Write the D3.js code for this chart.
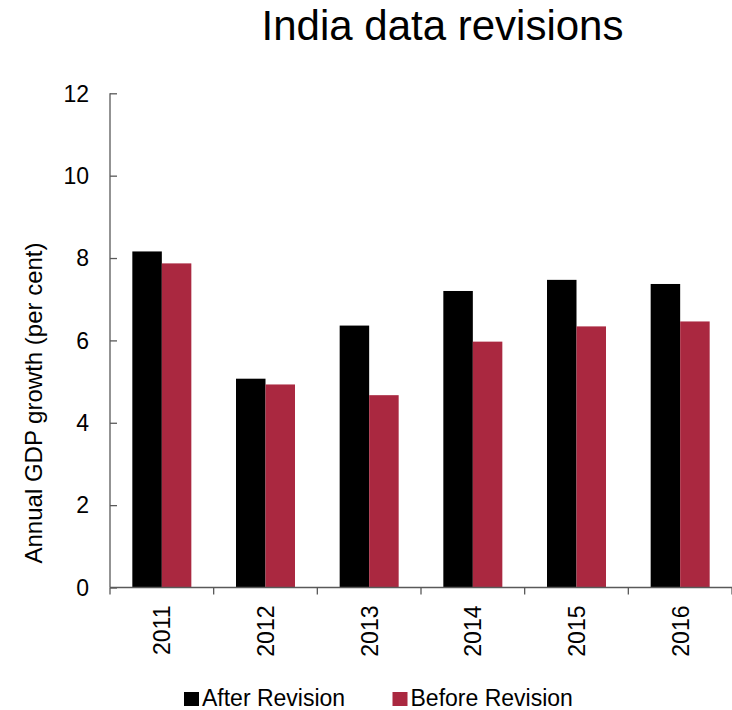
<!DOCTYPE html>
<html><head><meta charset="utf-8">
<script src="https://cdn.jsdelivr.net/npm/d3@7"></script>
<style>
body{margin:0;background:#fff;}
text{font-family:"Liberation Sans",Arial,sans-serif;fill:#000;}
</style></head>
<body><svg id="c" width="732" height="710"></svg>
<script>
const years = ["2011","2012","2013","2014","2015","2016"];
const afterRevision = [8.16, 5.07, 6.36, 7.20, 7.47, 7.37];
const beforeRevision = [7.87, 4.93, 4.67, 5.97, 6.34, 6.46];
const seriesNames = ["After Revision","Before Revision"];
const seriesColors = ["#000000","#AA2840"];
const yTicks = [0,2,4,6,8,10,12];

const svg = d3.select("#c");
const x0 = 110, x1 = 732, yTop = 93.3, yBot = 587.5;

const x = d3.scaleBand().domain(years).range([x0, x1]).paddingInner(0).paddingOuter(0);
const xs = d3.scaleBand().domain(seriesNames).range([0, x.bandwidth()]).paddingInner(0).paddingOuter(0.757);
const y = d3.scaleLinear().domain([0,12]).range([yBot, yTop]);

// title
svg.append("text").attr("x", 442.5).attr("y", 39.5).attr("text-anchor","middle")
  .style("font-size","42px").text("India data revisions");

// bars
const data = years.map((yr,i)=>({yr, vals:[afterRevision[i], beforeRevision[i]]}));
const g = svg.append("g");
data.forEach(d=>{
  d.vals.forEach((v,j)=>{
    g.append("rect")
      .attr("x", x(d.yr) + xs(seriesNames[j]))
      .attr("width", xs.bandwidth())
      .attr("y", y(v))
      .attr("height", y(0) - y(v))
      .attr("fill", seriesColors[j]);
  });
});

// y axis
const ya = svg.append("g").attr("transform",`translate(${x0},0)`)
  .call(d3.axisRight(y).tickValues(yTicks).tickSize(7).tickFormat(""));
ya.select(".domain").attr("stroke","#595959").attr("stroke-width",1.3).attr("d",`M0,${yTop}V${yBot}`);
ya.selectAll(".tick line").attr("stroke","#595959").attr("stroke-width",1.3);
svg.append("g").selectAll("text").data(yTicks).join("text")
  .attr("x", 89).attr("y", d=>y(d)).attr("dy","0.36em").attr("text-anchor","end")
  .style("font-size","23px").text(d=>d);

// x axis
const xa = svg.append("g").attr("transform",`translate(0,${yBot})`);
xa.append("line").attr("x1",x0).attr("x2",x1).attr("y1",0).attr("y2",0)
  .attr("stroke","#595959").attr("stroke-width",1.3);
const bounds = years.map(d=>x(d)).concat([x1]);
xa.selectAll("line.tk").data(bounds).join("line").attr("class","tk")
  .attr("x1",d=>d).attr("x2",d=>d).attr("y1",0).attr("y2",7)
  .attr("stroke","#595959").attr("stroke-width",1.3);
xa.selectAll("text").data(years).join("text")
  .attr("transform", d=>`translate(${x(d)+x.bandwidth()/2+8.5},18) rotate(-90)`)
  .attr("text-anchor","end").style("font-size","23px").text(d=>d);

// y axis label
svg.append("text").attr("transform","translate(41.5,403) rotate(-90)")
  .attr("text-anchor","middle").style("font-size","24px").text("Annual GDP growth (per cent)");

// legend
const legX = [184, 392.5];
const lg = svg.append("g");
seriesNames.forEach((s,i)=>{
  lg.append("rect").attr("x",legX[i]).attr("y",692).attr("width",15).attr("height",14).attr("fill",seriesColors[i]);
  lg.append("text").attr("x",legX[i]+18).attr("y",706).style("font-size","23px").text(s);
});
</script></body></html>
